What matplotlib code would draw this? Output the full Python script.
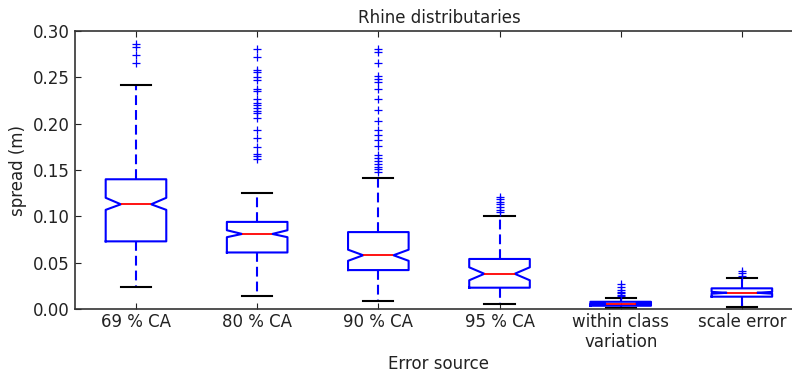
import matplotlib
matplotlib.use("Agg")
import matplotlib.pyplot as plt

# error sources
labels = ["69 % CA", "80 % CA", "90 % CA", "95 % CA",
          "within class\nvariation", "scale error"]

# box statistics (m)
whislo = [0.024, 0.014, 0.009, 0.0054, 0.0012, 0.0022]
q1 = [0.073, 0.061, 0.042, 0.023, 0.0035, 0.0133]
med = [0.113, 0.081, 0.058, 0.038, 0.0055, 0.0175]
q3 = [0.140, 0.094, 0.083, 0.054, 0.0078, 0.0223]
whishi = [0.242, 0.125, 0.141, 0.100, 0.0115, 0.0338]
cilo = [0.107, 0.0775, 0.052, 0.031, 0.0052, 0.0165]
cihi = [0.120, 0.085, 0.064, 0.045, 0.0058, 0.0185]

fliers = [
    [0.2856, 0.2831, 0.2740, 0.2658],
    [0.2802, 0.2716, 0.2579, 0.2561, 0.2507, 0.2471, 0.2371, 0.2352,
     0.2269, 0.2220, 0.2198, 0.2172, 0.2140, 0.2112, 0.2058, 0.1931,
     0.1842, 0.1751, 0.1673, 0.1651, 0.1615],
    [0.2802, 0.2777, 0.2651, 0.2514, 0.2485, 0.2453, 0.2371, 0.2263,
     0.2147, 0.2032, 0.1932, 0.1878, 0.1824, 0.1759, 0.1662, 0.1626,
     0.1597, 0.1565, 0.1536, 0.1508, 0.1482],
    [0.1212, 0.1184, 0.1158, 0.1133, 0.1104, 0.1068, 0.1050],
    [0.0270, 0.0240, 0.0210, 0.0187, 0.0169, 0.0151, 0.0135],
    [0.0413, 0.0385, 0.0360],
]

stats = []
for i in range(len(labels)):
    stats.append(dict(whislo=whislo[i], q1=q1[i], med=med[i], q3=q3[i],
                      whishi=whishi[i], cilo=cilo[i], cihi=cihi[i],
                      fliers=fliers[i]))

fig = plt.figure(figsize=(7.92, 3.75), dpi=100)
ax = fig.add_axes([0.0952, 0.176, 0.918, 0.7413])

ax.bxp(stats, positions=range(1, len(labels) + 1), widths=0.5,
       shownotches=True, showfliers=True,
       boxprops=dict(color="blue", linewidth=1.5),
       whiskerprops=dict(color="blue", linewidth=1.5,
                         linestyle=(0, (4.7, 2.4))),
       capprops=dict(color="black", linewidth=1.5),
       medianprops=dict(color="red", linewidth=1.3),
       flierprops=dict(marker="+", markeredgecolor="blue",
                       markersize=6, markeredgewidth=0.9, linestyle="none"))

ax.set_xlim(0.5, len(labels) + 0.5)
ax.set_ylim(0, 0.30)
ax.set_yticks([0, 0.05, 0.10, 0.15, 0.20, 0.25, 0.30])
ax.set_xticks(range(1, len(labels) + 1))
ax.set_xticklabels(labels, linespacing=1.1)
ax.tick_params(direction="in", top=True, right=True, length=4,
               labelsize=12, pad=4, colors="#222222")
ax.tick_params(axis="x", pad=3)
for s in ax.spines.values():
    s.set_color("#333333")
    s.set_linewidth(1.2)

ax.set_title("Rhine distributaries", fontsize=12, color="#222222")
ax.set_xlabel("Error source", fontsize=12, color="#222222", labelpad=3)
ax.set_ylabel("spread (m)", fontsize=12, color="#222222")

fig.savefig("out.png", dpi=100)
